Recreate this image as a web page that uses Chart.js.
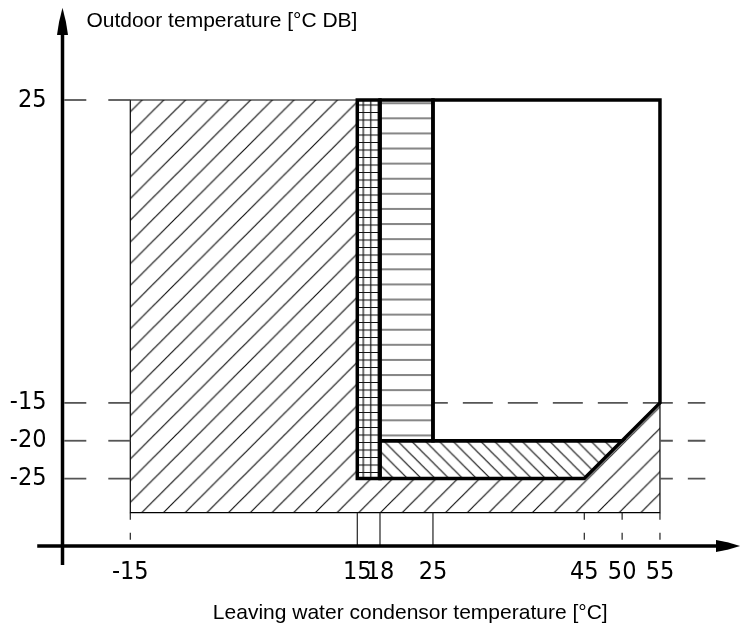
<!DOCTYPE html>
<html>
<head>
<meta charset="utf-8">
<script src="https://cdn.jsdelivr.net/npm/chart.js@4.4.1/dist/chart.umd.min.js"></script>
<style>
  html, body { margin: 0; padding: 0; background: #fff; }
  canvas { display: block; }
</style>
</head>
<body>
<canvas id="chart" width="741" height="630"></canvas>
<script>
// ---------------------------------------------------
// Data
// ---------------------------------------------------
var xTitle = 'Leaving water condensor temperature [°C]';
var yTitle = 'Outdoor temperature [°C DB]';

var xTicks = [-15, 15, 18, 25, 45, 50, 55];
var yTicks = [25, -15, -20, -25];

// zones of the map, corners as [water temp, outdoor temp]
var outerZone  = [[-15, 25], [55, 25], [55, -29.5], [-15, -29.5], [-15, 25]];
var gridZone   = [[15, 25], [18, 25], [18, -25], [15, -25], [15, 25]];
var stripeZone = [[18, 25], [25, 25], [25, -20], [18, -20], [18, 25]];
var slashZone  = [[18, -20], [50, -20], [45, -25], [18, -25], [18, -20]];
var openZone   = [[25, 25], [55, 25], [55, -15], [50, -20], [25, -20], [25, 25]];

// dashed guides
var guideLeft  = [25, -15, -20, -25];               // frame -> y axis
var guideRight = [[-15, 25], [-20, 55], [-25, 55]]; // [outdoor temp, starts at]
var guideEnd   = 61;
var dropSolid  = [15, 18, 25];
var dropDashed = [-15, 45, 50, 55];
var frameBottom = -29.5;

// axes
var xRange = [-23.96, 65.71];
var yRange = [-33.9, 37.15];
var xAxisLine = [[-27.3, -33.9], [64, -33.9]];
var yAxisLine = [[-23.96, -36.4], [-23.96, 35]];
var xArrowAt = [64, -33.9];
var yArrowAt = [-23.96, 35.4];

// ---------------------------------------------------
// Helpers
// ---------------------------------------------------
function toXY(list) {
  return list.map(function(p) { return {x: p[0], y: p[1]}; });
}

function hatch(size, strokes, matrix) {
  var c = document.createElement('canvas');
  c.width = size;
  c.height = size;
  var g = c.getContext('2d');
  g.fillStyle = '#fff';
  g.fillRect(0, 0, size, size);
  g.strokeStyle = '#111';
  g.lineWidth = 1.2;
  g.beginPath();
  strokes.forEach(function(s) {
    g.moveTo(s[0], s[1]);
    g.lineTo(s[2], s[3]);
  });
  g.stroke();
  var p = g.createPattern(c, 'repeat');
  p.setTransform(matrix);
  return p;
}

function arrowHead(w, h) {
  var c = document.createElement('canvas');
  c.width = w;
  c.height = h;
  var g = c.getContext('2d');
  g.fillStyle = '#000';
  g.beginPath();
  g.moveTo(w / 2, 0);
  g.quadraticCurveTo(w * 0.85, h * 0.5, w, h);
  g.lineTo(0, h);
  g.quadraticCurveTo(w * 0.15, h * 0.5, w / 2, 0);
  g.fill();
  return c;
}

var slashFill  = hatch(22, [[-2, 24, 24, -2], [-2, 2, 2, -2], [20, 24, 24, 20]],
                       new DOMMatrix().translate(3.3, 0).scale(21.7 / 22));
var gridFill   = hatch(15, [[0, -1, 0, 16], [7.5, -1, 7.5, 16], [15, -1, 15, 16],
                            [-1, 0, 16, 0], [-1, 7.5, 16, 7.5], [-1, 15, 16, 15]],
                       new DOMMatrix().translate(3.3, 0));
var stripeFill = hatch(15, [[-1, 0, 16, 0], [-1, 15, 16, 15]],
                       new DOMMatrix().translate(0, 12.6).scale(1, 15.1 / 15));
var backFill   = hatch(14, [[-2, -2, 16, 16], [12, -2, 16, 2], [-2, 12, 2, 16]],
                       new DOMMatrix().translate(11.8, 0).scale(13.8 / 14));

function zone(points, fill, width, order) {
  return {
    data: toXY(points),
    showLine: true,
    fill: 'shape',
    backgroundColor: fill,
    borderColor: '#000',
    borderWidth: width,
    borderJoinStyle: 'miter',
    borderCapStyle: 'square',
    pointRadius: 0,
    order: order
  };
}

function line(points, opts) {
  var ds = {
    data: toXY(points),
    showLine: true,
    fill: false,
    borderColor: '#555',
    borderWidth: 1.8,
    pointRadius: 0,
    order: 1
  };
  for (var k in opts) ds[k] = opts[k];
  return ds;
}

// ---------------------------------------------------
// Datasets
// ---------------------------------------------------
var datasets = [
  zone(outerZone, slashFill, 1.2, 5),
  zone(gridZone, gridFill, 3.5, 2),
  zone(stripeZone, stripeFill, 3.5, 2),
  zone(slashZone, backFill, 3.5, 2),
  zone(openZone, '#fff', 3.5, 2)
];

guideLeft.forEach(function(v) {
  datasets.push(line([[-15, v], [xRange[0], v]], {borderDash: [22, 22], order: 3}));
});

guideRight.forEach(function(g) {
  datasets.push(line([[g[1], g[0]], [guideEnd, g[0]]], {
    borderDash: [30, 15],
    order: 3,
    borderDashOffset: function(ctx) {
      var s = ctx.chart.scales.x;
      return (s.getPixelForValue(g[1]) - s.getPixelForValue(23)) % 45;
    }
  }));
});

dropSolid.forEach(function(v) {
  datasets.push(line([[v, frameBottom], [v, yRange[0]]], {borderColor: '#222', borderWidth: 1.2}));
});
dropDashed.forEach(function(v) {
  datasets.push(line([[v, frameBottom], [v, yRange[0]]], {borderColor: '#222', borderWidth: 1.2, borderDash: [7, 13]}));
});

datasets.push(line(xAxisLine, {borderColor: '#000', borderWidth: 3.5, clip: false, order: 0}));
datasets.push(line(yAxisLine, {borderColor: '#000', borderWidth: 3.5, clip: false, order: 0}));
datasets.push({
  data: toXY([xArrowAt]), showLine: false, pointStyle: arrowHead(12, 24),
  rotation: 90, pointRadius: 6, clip: false, order: 0
});
datasets.push({
  data: toXY([yArrowAt]), showLine: false, pointStyle: arrowHead(11, 27),
  rotation: 0, pointRadius: 6, clip: false, order: 0
});

// ---------------------------------------------------
// Chart
// ---------------------------------------------------
var tickFont = {family: '"DejaVu Sans Condensed", "DejaVu Sans", sans-serif', size: 25};

var captions = {
  id: 'captions',
  afterDraw: function(chart) {
    var ctx = chart.ctx, x = chart.scales.x, y = chart.scales.y;
    ctx.save();
    ctx.font = '21px "Liberation Sans", Arial, sans-serif';
    ctx.fillStyle = '#000';
    ctx.textBaseline = 'alphabetic';
    ctx.textAlign = 'left';
    ctx.fillText(yTitle, x.getPixelForValue(-20.8), y.getPixelForValue(34.64));
    ctx.textAlign = 'center';
    ctx.fillText(xTitle, x.getPixelForValue(22), y.getPixelForValue(-43.55));
    ctx.restore();
  }
};

function noPadding(s) {
  s.paddingTop = 0;
  s.paddingBottom = 0;
  s.paddingLeft = 0;
  s.paddingRight = 0;
}

new Chart(document.getElementById('chart'), {
  type: 'scatter',
  data: {datasets: datasets},
  plugins: [captions],
  options: {
    responsive: false,
    animation: false,
    events: [],
    layout: {autoPadding: false, padding: {top: 8, right: 0, bottom: 0, left: 0}},
    plugins: {
      legend: {display: false},
      tooltip: {enabled: false},
      filler: {drawTime: 'beforeDatasetsDraw'}
    },
    elements: {line: {tension: 0}},
    scales: {
      x: {
        type: 'linear',
        min: xRange[0],
        max: xRange[1],
        grid: {display: false, drawTicks: false},
        border: {display: false},
        afterBuildTicks: function(s) { s.ticks = xTicks.map(function(v) { return {value: v}; }); },
        afterFit: function(s) { s.height = 84; noPadding(s); },
        ticks: {autoSkip: false, maxRotation: 0, padding: 11, color: '#000', font: tickFont}
      },
      y: {
        type: 'linear',
        min: yRange[0],
        max: yRange[1],
        grid: {display: false, drawTicks: false},
        border: {display: false},
        afterBuildTicks: function(s) { s.ticks = yTicks.map(function(v) { return {value: v}; }); },
        afterFit: function(s) { s.width = 62.5; noPadding(s); },
        ticks: {autoSkip: false, padding: 16, color: '#000', font: tickFont}
      }
    }
  }
});
</script>
</body>
</html>
